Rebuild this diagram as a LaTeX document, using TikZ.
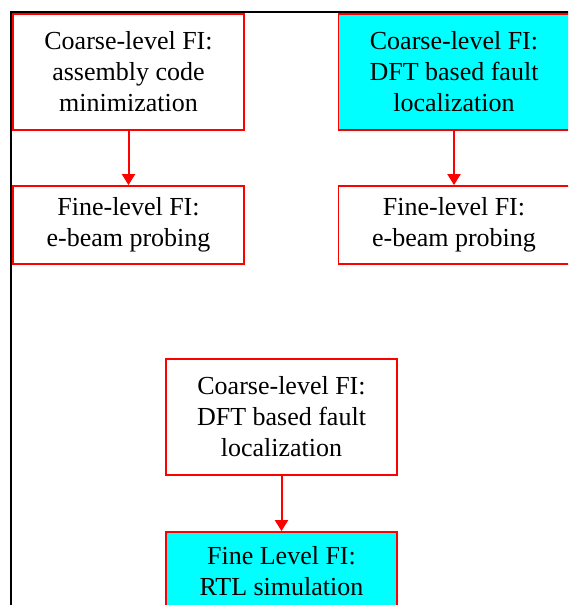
\documentclass[tikz,border=0pt]{standalone}
\usepackage{fontspec}
\setmainfont{Liberation Serif}
\usepackage{tikz}
\usetikzlibrary{positioning}
\usetikzlibrary{arrows.meta}
\tikzset{>=latex}
\definecolor{ficyan}{RGB}{0,255,255}
\definecolor{fired}{RGB}{255,0,0}
\tikzset{
  fibox/.style={rectangle, draw=fired, line width=1.8pt, minimum width=231pt,
    align=center, inner sep=0pt, font=\rmfamily\fontsize{26}{31}\selectfont},
  coarse/.style={fibox, minimum height=116pt},
  fine/.style={fibox, minimum height=78pt},
  flow/.style={draw=fired, line width=2pt, -{Triangle[width=13pt,length=11pt]}}
}

\begin{document}
\begin{tikzpicture}[x=1pt, y=-1pt]
  % --- Frame ---
  \useasboundingbox (0,0) rectangle (568,605);
  \clip (0,0) rectangle (568,605);
  \draw[line width=2pt] (11,606) -- (11,12) -- (569,12);

  % --- 1. Left column ---
  \node[coarse] (asm) at (128.5,72) {Coarse-level FI:\\assembly code\\minimization};
  \node[fine] (ebeamL) at (128.5,225) {Fine-level FI:\\e-beam probing};

  % --- 2. Right column (runs up to the page edge) ---
  \node[coarse, fill=ficyan] (dftR) at (454,72) {Coarse-level FI:\\DFT based fault\\localization};
  \node[fine] (ebeamR) at (454,225) {Fine-level FI:\\e-beam probing};

  % --- 3. Middle column ---
  \node[coarse] (dftM) at (281.5,417) {Coarse-level FI:\\DFT based fault\\localization};
  \node[fine, fill=ficyan] (rtl) at (281.5,571) {Fine Level FI:\\RTL simulation};

  % --- 4. Arrows ---
  \draw[flow] (asm) -- (ebeamL);
  \draw[flow] (dftR) -- (ebeamR);
  \draw[flow] (dftM) -- (rtl);
\end{tikzpicture}
\end{document}
